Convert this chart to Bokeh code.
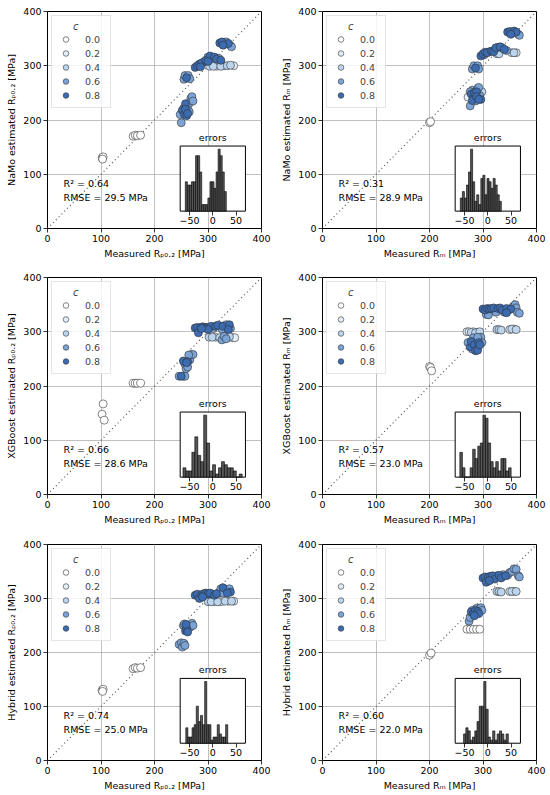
import numpy as np
from bokeh.plotting import figure
from bokeh.models import (Range1d, LinearAxis, FixedTicker, Label, Legend,
                          LegendItem, Slope)
from bokeh.layouts import column, row
from bokeh.embed import file_html
from bokeh.resources import INLINE

FONT = "DejaVu Sans"
FS = "9.5px"

C_LEVELS = [0.0, 0.2, 0.4, 0.6, 0.8]
C_LABELS = ["0.0", "0.2", "0.4", "0.6", "0.8"]
C_COLORS = ["#ffffff", "#e3eef9", "#bcd5ee", "#7ba3d6", "#3b6bb0"]
AXIS_TICKS = [0, 100, 200, 300, 400]
HIST_TICKS = [-50, 0, 50]
HIST_TICK_LABELS = {-50: "\u221250", 0: "0", 50: "50"}

# ---------------- Panel 1: NaMo, Rp0.2 ----------------
p1_x = [102, 104, 103, 160, 164, 168, 174,
        248, 250, 252, 255, 256, 258, 260, 262, 265, 266, 268, 270, 272, 258, 262,
        255, 257, 260, 263, 266,
        276, 280, 284, 288, 292, 296, 286,
        300, 304, 308, 312, 316, 320, 324, 300,
        303, 310, 316, 324, 330, 336, 342, 348,
        322, 326, 330, 334, 338, 341, 344, 328]
p1_y = [130, 132, 128, 170, 172, 171, 172,
        210, 195, 218, 222, 210, 230, 208, 225, 215, 232, 240, 243, 235, 220, 212,
        275, 282, 278, 282, 276,
        297, 300, 303, 305, 307, 310, 298,
        316, 318, 314, 316, 312, 314, 310, 308,
        299, 299, 299, 299, 300, 300, 301, 300,
        342, 344, 343, 344, 341, 338, 335, 338]
p1_c = [0.0] * 7 + \
       [0.6, 0.6, 0.8, 0.6, 0.8, 0.8, 0.8, 0.6, 0.6, 0.6, 0.6, 0.6, 0.6, 0.8, 0.8] + \
       [0.6, 0.6, 0.8, 0.6, 0.6] + \
       [0.8, 0.8, 0.8, 0.8, 0.6, 0.8, 0.8] + \
       [0.6, 0.8, 0.6, 0.8, 0.8, 0.6, 0.8, 0.8] + \
       [0.4, 0.4, 0.2, 0.4, 0.2, 0.4, 0.4, 0.2] + \
       [0.8, 0.8, 0.6, 0.6, 0.8, 0.6, 0.6, 0.8]
h1_counts = [9, 8, 8, 9, 9, 17, 17, 12, 2, 2, 2, 4, 9, 9, 7, 12, 19, 17, 12, 6]
h1_range = (-59, 29)

# ---------------- Panel 2: NaMo, Rm ----------------
p2_x = [200, 202,
        272, 276, 278, 280, 282, 284, 286, 288, 290, 292, 294, 296, 298, 280, 288, 292, 276,
        280, 283, 286, 290, 292,
        296, 300, 304, 308, 312, 316, 320, 324, 328, 332, 336, 340, 344, 302,
        326, 330, 354, 358, 362,
        346, 350, 354, 358, 362, 366, 368, 352]
p2_y = [195, 197,
        242, 226, 248, 255, 240, 250, 235, 252, 258, 260, 245, 238, 252, 236, 243, 238, 252,
        294, 300, 296, 300, 294,
        318, 322, 325, 324, 326, 327, 326, 333, 334, 335, 333, 330, 328, 320,
        322, 322, 324, 324, 324,
        362, 363, 361, 364, 362, 358, 356, 358]
p2_c = [0.0, 0.0] + \
       [0.2, 0.6, 0.8, 0.6, 0.8, 0.8, 0.6, 0.8, 0.6, 0.6, 0.6, 0.8, 0.4, 0.8, 0.8, 0.8, 0.6] + \
       [0.6, 0.6, 0.8, 0.6, 0.6] + \
       [0.8, 0.8, 0.8, 0.8, 0.6, 0.8, 0.8, 0.8, 0.6, 0.8, 0.6, 0.8, 0.6, 0.6] + \
       [0.4, 0.4, 0.2, 0.4, 0.2] + \
       [0.8, 0.8, 0.6, 0.8, 0.8, 0.6, 0.6, 0.8]
h2_counts = [4, 6, 4, 8, 12, 19, 9, 3, 5, 2, 10, 11, 5, 10, 9, 7, 10, 8, 5, 3]
h2_range = (-59, 29)

# ---------------- Panel 3: XGBoost, Rp0.2 ----------------
p3_x = [102, 104, 106, 160, 164, 168, 174,
        246, 250, 254, 257,
        254, 257, 259, 262, 262, 266, 268, 272, 264, 260,
        276, 280, 282, 286, 290, 294, 298, 302, 306, 310, 314, 318, 322, 300, 288,
        302, 308, 314, 322, 326, 330, 334, 340, 346, 350,
        328, 334, 340, 342, 338, 326]
p3_y = [148, 167, 137, 205, 205, 205, 205,
        218, 218, 218, 218,
        246, 240, 232, 245, 235, 248, 258, 258, 257, 243,
        307, 308, 298, 308, 309, 308, 308, 308, 310, 306, 310, 312, 311, 304, 306,
        290, 290, 290, 289, 285, 292, 287, 291, 289, 289,
        310, 313, 313, 306, 304, 305]
p3_c = [0.0] * 7 + \
       [0.6, 0.8, 0.6, 0.6] + \
       [0.8, 0.6, 0.6, 0.8, 0.6, 0.6, 0.6, 0.6, 0.6, 0.8] + \
       [0.8, 0.8, 0.8, 0.8, 0.8, 0.8, 0.8, 0.8, 0.8, 0.6, 0.8, 0.8, 0.6, 0.8, 0.8] + \
       [0.4, 0.4, 0.2, 0.4, 0.6, 0.6, 0.6, 0.4, 0.2, 0.2] + \
       [0.8, 0.6, 0.8, 0.6, 0.8, 0.6]
h3_counts = [3, 2, 2, 8, 13, 7, 5, 20, 11, 2, 4, 1, 3, 5, 4, 3, 3, 2, 0, 1]
h3_range = (-64, 63)

# ---------------- Panel 4: XGBoost, Rm ----------------
p4_x = [200, 202, 204,
        270, 274, 278, 282, 286, 290, 294,
        272, 276, 278, 280, 284, 286, 288, 290, 292, 294, 296, 298, 282, 290,
        300, 304, 306, 308, 312, 316, 320, 324, 328, 332, 336, 340, 344, 348, 352, 356,
        360, 362, 364, 368, 310, 344,
        326, 330, 334, 350, 354, 358, 362]
p4_y = [236, 234, 228,
        300, 300, 299, 300, 298, 299, 300,
        280, 272, 282, 268, 276, 265, 272, 266, 280, 276, 290, 280, 289, 290,
        342, 340, 332, 343, 342, 343, 344, 336, 343, 344, 340, 336, 343, 340, 342, 346,
        350, 344, 336, 334, 331, 335,
        304, 304, 303, 304, 305, 305, 304]
p4_c = [0.0, 0.0, 0.0] + \
       [0.2, 0.2, 0.4, 0.2, 0.4, 0.2, 0.4] + \
       [0.6, 0.8, 0.8, 0.6, 0.8, 0.8, 0.6, 0.8, 0.8, 0.8, 0.6, 0.6, 0.6, 0.6] + \
       [0.8, 0.8, 0.6, 0.8, 0.8, 0.8, 0.8, 0.6, 0.8, 0.8, 0.8, 0.6, 0.8, 0.6, 0.8, 0.6,
        0.6, 0.6, 0.6, 0.6, 0.6, 0.8] + \
       [0.4, 0.4, 0.4, 0.2, 0.4, 0.2, 0.4]
h4_counts = [8, 3, 0, 0, 3, 9, 6, 10, 11, 20, 19, 11, 5, 3, 5, 2, 6, 6, 2, 3]
h4_range = (-60, 50)

# ---------------- Panel 5: Hybrid, Rp0.2 ----------------
p5_x = [102, 104, 103, 160, 164, 168, 174,
        246, 250, 252, 255, 257,
        254, 256, 258, 260, 262, 264, 267, 270, 272, 259,
        276, 280, 284, 288, 292, 296, 300, 304, 308, 312, 316, 320, 290,
        300, 306, 312, 318, 324, 332, 338, 344, 348,
        324, 328, 334, 340, 342, 328, 336]
p5_y = [130, 132, 128, 170, 172, 171, 172,
        215, 218, 210, 217, 213,
        250, 253, 240, 245, 238, 250, 247, 254, 250, 252,
        306, 308, 300, 307, 309, 310, 308, 310, 308, 306, 309, 310, 303,
        294, 294, 294, 294, 294, 295, 295, 295, 295,
        318, 320, 316, 318, 312, 310, 310]
p5_c = [0.0] * 7 + \
       [0.6, 0.6, 0.6, 0.6, 0.6] + \
       [0.6, 0.6, 0.8, 0.8, 0.8, 0.6, 0.6, 0.6, 0.6, 0.8] + \
       [0.8, 0.8, 0.8, 0.8, 0.8, 0.8, 0.8, 0.8, 0.6, 0.8, 0.8, 0.6, 0.8] + \
       [0.4, 0.4, 0.2, 0.4, 0.2, 0.4, 0.2, 0.4, 0.2] + \
       [0.6, 0.8, 0.6, 0.6, 0.8, 0.6, 0.8]
h5_counts = [5, 2, 2, 5, 6, 12, 7, 9, 6, 20, 6, 6, 1, 2, 2, 6, 3, 2, 2, 6]
h5_range = (-58, 32)

# ---------------- Panel 6: Hybrid, Rm ----------------
p6_x = [200, 203,
        270, 276, 282, 288, 294,
        274, 276, 278, 282, 286, 288, 290, 292, 294, 296, 298, 280, 284,
        300, 304, 306, 310, 314, 318, 322, 326, 330, 334, 338, 342, 346, 350, 354, 358,
        362, 366, 368, 312,
        326, 330, 334, 350, 354, 358, 362]
p6_y = [195, 199,
        243, 243, 243, 243, 243,
        258, 265, 275, 272, 278, 282, 276, 272, 280, 283, 278, 278, 268,
        338, 340, 330, 340, 341, 342, 336, 342, 343, 338, 344, 342, 343, 348, 350, 355,
        354, 342, 340, 333,
        313, 313, 312, 313, 313, 313, 313]
p6_c = [0.0, 0.0] + \
       [0.0, 0.0, 0.0, 0.0, 0.0] + \
       [0.6, 0.6, 0.8, 0.8, 0.8, 0.6, 0.8, 0.8, 0.6, 0.6, 0.6, 0.6, 0.8] + \
       [0.8, 0.8, 0.8, 0.8, 0.8, 0.8, 0.8, 0.6, 0.8, 0.8, 0.6, 0.8, 0.6, 0.6, 0.6, 0.6,
        0.6, 0.6, 0.6, 0.8] + \
       [0.4, 0.4, 0.4, 0.2, 0.4, 0.2, 0.4]
h6_counts = [3, 5, 4, 1, 2, 4, 7, 12, 12, 20, 11, 2, 1, 4, 1, 3, 4, 3, 1, 3]
h6_range = (-52, 44)

R2_VALUES = ["0.64", "0.31", "0.66", "0.57", "0.74", "0.60"]
RMSE_VALUES = ["29.5", "28.9", "28.6", "23.0", "25.0", "22.0"]
MODELS = ["NaMo", "NaMo", "XGBoost", "XGBoost", "Hybrid", "Hybrid"]
QTY = ["R\u209a\u2080.\u2082", "R\u2098"]

PANELS = [
    (p1_x, p1_y, p1_c, h1_counts, h1_range),
    (p2_x, p2_y, p2_c, h2_counts, h2_range),
    (p3_x, p3_y, p3_c, h3_counts, h3_range),
    (p4_x, p4_y, p4_c, h4_counts, h4_range),
    (p5_x, p5_y, p5_c, h5_counts, h5_range),
    (p6_x, p6_y, p6_c, h6_counts, h6_range),
]

# inset placement (fractions of the frame) and inset x-limits
INSET = (0.62, 0.08, 0.305, 0.30)
HX_LIM = (-70, 70)

# figure sizes: (width, min_border_left, min_border_right) per column,
# (height, min_border_top, min_border_bottom) per row
COL_GEOM = [(275, 47, 14), (274, 47, 13)]
ROW_GEOM = [(266, 11, 38), (266, 11, 38), (262, 12, 34)]


def style_axis(ax):
    ax.axis_line_color = None
    ax.major_tick_line_color = "black"
    ax.major_tick_line_width = 0.8
    ax.major_tick_out = 4
    ax.major_tick_in = 0
    ax.minor_tick_line_color = None
    ax.major_label_text_font = FONT
    ax.major_label_text_font_size = FS
    ax.major_label_text_color = "black"
    ax.major_label_standoff = 2
    ax.axis_label_text_font = FONT
    ax.axis_label_text_font_size = FS
    ax.axis_label_text_font_style = "normal"
    ax.axis_label_text_color = "black"
    ax.axis_label_standoff = 3


def make_panel(i):
    x, y, c, counts, hrange = PANELS[i]
    col = i % 2
    rw = i // 2
    width, mbl, mbr = COL_GEOM[col]
    height, mbt, mbb = ROW_GEOM[rw]
    p = figure(width=width, height=height,
               x_range=Range1d(0, 400), y_range=Range1d(0, 400),
               output_backend="svg", toolbar_location=None,
               min_border_left=mbl, min_border_right=mbr,
               min_border_top=mbt, min_border_bottom=mbb)
    p.outline_line_color = "black"
    p.outline_line_width = 1
    p.outline_line_alpha = 1
    p.background_fill_color = "white"
    p.border_fill_color = "white"
    for ax in p.axis:
        style_axis(ax)
        ax.ticker = FixedTicker(ticks=AXIS_TICKS)
    p.xaxis.axis_label = "Measured %s [MPa]" % QTY[col]
    p.yaxis.axis_label = "%s estimated %s [MPa]" % (MODELS[i], QTY[col])
    p.grid.grid_line_color = "#b0b0b0"
    p.grid.grid_line_width = 0.8

    p.add_layout(Slope(gradient=1, y_intercept=0, line_color="#555555",
                       line_dash="1 3", line_width=1.2, level="underlay"))

    items = []
    for lvl, lab, colr in zip(C_LEVELS, C_LABELS, C_COLORS):
        xs = [a for a, cc in zip(x, c) if abs(cc - lvl) < 1e-9]
        ys = [b for b, cc in zip(y, c) if abs(cc - lvl) < 1e-9]
        r = p.scatter(xs, ys, size=8, fill_color=colr, line_color="#333333",
                      line_width=0.6)
        items.append(LegendItem(label=lab, renderers=[r]))
    leg = Legend(items=items, title="\u00a0" * 5 + "c", location="top_left")
    leg.title_text_font = FONT
    leg.title_text_font_style = "italic"
    leg.title_text_font_size = "10px"
    leg.title_standoff = 0
    leg.label_text_font = FONT
    leg.label_text_font_size = FS
    leg.border_line_color = "#cccccc"
    leg.border_line_width = 0.8
    leg.background_fill_alpha = 0.8
    leg.padding = 5
    leg.margin = 4
    leg.spacing = 0
    leg.glyph_height = 14
    leg.glyph_width = 17
    leg.label_height = 14
    leg.label_standoff = 11
    p.add_layout(leg)

    p.add_layout(Label(x=30, y=83, text="R\u00b2 = %s" % R2_VALUES[i],
                       text_baseline="middle", text_font=FONT,
                       text_font_size=FS, text_color="black"))
    p.add_layout(Label(x=30, y=57, text="RMSE = %s MPa" % RMSE_VALUES[i],
                       text_baseline="middle", text_font=FONT,
                       text_font_size=FS, text_color="black"))

    # inset histogram through extra ranges
    fx0, fy0, fw, fh = INSET
    span = (HX_LIM[1] - HX_LIM[0]) / fw
    p.extra_x_ranges = {"hx": Range1d(HX_LIM[0] - fx0 * span,
                                      HX_LIM[0] + (1 - fx0) * span)}
    hymax = max(counts) * 1.05
    hspan = hymax / fh
    p.extra_y_ranges = {"hy": Range1d(-fy0 * hspan, (1 - fy0) * hspan)}
    p.quad(left=[HX_LIM[0]], right=[HX_LIM[1]], bottom=[0], top=[hymax],
           x_range_name="hx", y_range_name="hy",
           fill_color="white", line_color="black", line_width=1)
    edges = np.linspace(hrange[0], hrange[1], len(counts) + 1)
    p.quad(left=edges[:-1], right=edges[1:], bottom=0, top=counts,
           x_range_name="hx", y_range_name="hy",
           fill_color="#555555", line_color="black", line_width=0.6)
    hax = LinearAxis(x_range_name="hx", y_range_name="hy", fixed_location=0,
                     bounds=HX_LIM, ticker=FixedTicker(ticks=HIST_TICKS),
                     major_label_overrides=HIST_TICK_LABELS)
    style_axis(hax)
    p.add_layout(hax, "below")
    p.add_layout(Label(x=0, y=hymax, x_range_name="hx", y_range_name="hy",
                       text="errors", text_align="center", text_baseline="bottom",
                       y_offset=3, text_font=FONT, text_font_size=FS,
                       text_color="black"))
    return p


figs = [make_panel(i) for i in range(6)]
layout = column(row(figs[0], figs[1]), row(figs[2], figs[3]), row(figs[4], figs[5]))
open("out.html", "w").write(file_html(layout, INLINE))
